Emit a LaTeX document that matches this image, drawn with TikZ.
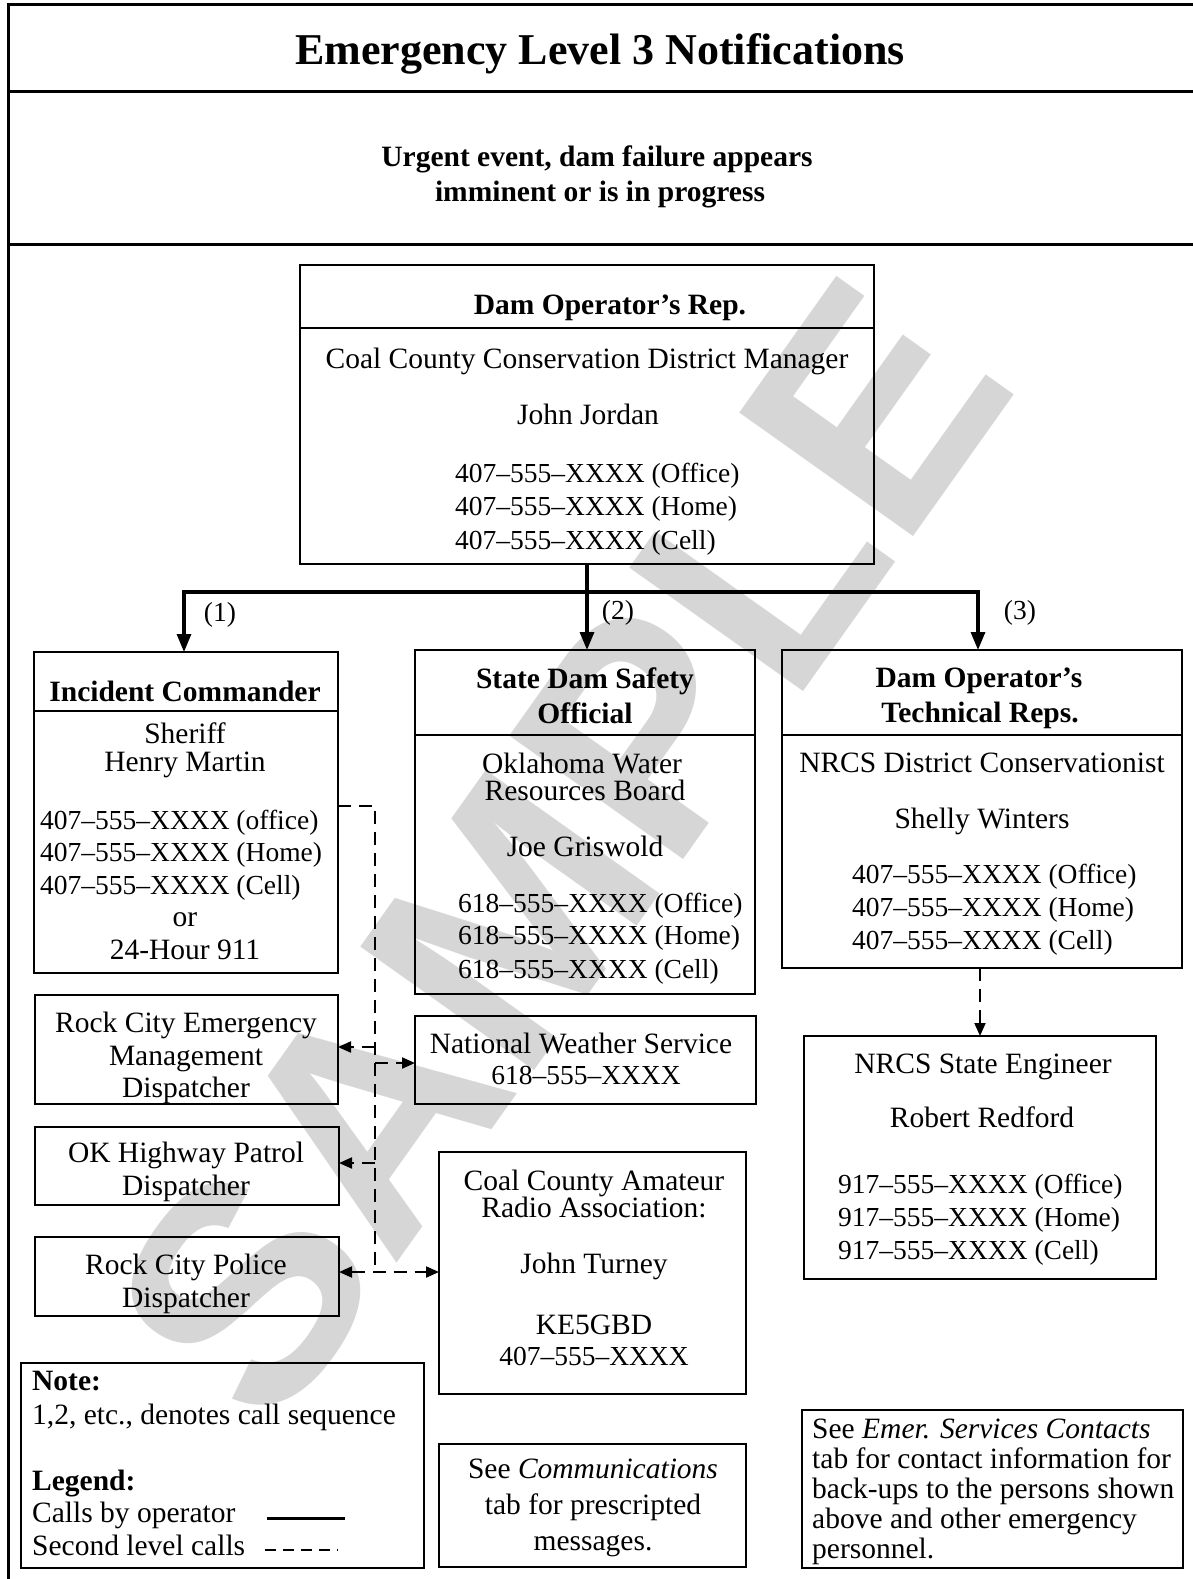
\documentclass[tikz,border=0pt]{standalone}
\usepackage{fontspec}
\setmainfont{Liberation Serif}
\setsansfont{Liberation Sans}
\usetikzlibrary{arrows.meta,calc}
\begin{document}
\begin{tikzpicture}[x=1pt,y=-1pt,
  box/.style={draw, line width=1.8pt, inner sep=0pt, outer sep=0pt, anchor=north west},
  txt/.style={inner sep=0pt, anchor=base, font=\fontsize{29.5}{33}\selectfont},
  txtl/.style={txt, anchor=base west},
  ph/.style={txt, font=\fontsize{27.5}{33}\selectfont},
  phl/.style={ph, anchor=base west},
  hd/.style={txt, font=\fontsize{29.5}{33}\selectfont\bfseries},
  hdl/.style={hd, anchor=base west},
  frameline/.style={line width=3pt},
  callline/.style={line width=3.2pt},
  callarrow/.style={line width=3.2pt, -{Triangle[length=18pt,width=14pt]}},
  dline/.style={line width=2pt, dash pattern=on 13pt off 8pt},
  darrow/.style={dline, -{Triangle[length=13pt,width=11pt]}},
  dbarrow/.style={dline, {Triangle[length=13pt,width=11pt]}-{Triangle[length=13pt,width=11pt]}}]
\useasboundingbox (0,0) rectangle (1193,1579);

% watermark
\node[rotate=54.6, text=black!16, inner sep=0pt] (wm) at (560,850)
  {\fontsize{310}{310}\selectfont\sffamily\bfseries SAMPLE};

% frame
\draw[frameline] (8,1579) -- (8,5) -- (1193,5);
\draw[frameline] (8,91) -- (1193,91);
\draw[frameline] (8,244) -- (1193,244);

\node[hd, font=\fontsize{44}{50}\selectfont\bfseries] (title) at (600,65) {Emergency Level 3 Notifications};
\node[hd] (sub1) at (597,166) {Urgent event, dam failure appears};
\node[hd] (sub2) at (600,201) {imminent or is in progress};

% boxes
\node[box, minimum width=574pt, minimum height=299pt] (main) at (300,265) {};
\node[box, minimum width=304pt, minimum height=321pt] (ic) at (34,652) {};
\node[box, minimum width=340pt, minimum height=344pt] (sds) at (415,650) {};
\node[box, minimum width=400pt, minimum height=318pt] (tr) at (782,650) {};
\node[box, minimum width=352pt, minimum height=243pt] (nrcs) at (804,1036) {};
\node[box, minimum width=303pt, minimum height=109pt] (rcem) at (35,995) {};
\node[box, minimum width=341pt, minimum height=88pt] (nws) at (415,1016) {};
\node[box, minimum width=304pt, minimum height=78pt] (okhp) at (35,1127) {};
\node[box, minimum width=307pt, minimum height=242pt] (cca) at (439,1152) {};
\node[box, minimum width=304pt, minimum height=79pt] (rcp) at (35,1237) {};
\node[box, minimum width=403pt, minimum height=205pt] (note) at (21,1363) {};
\node[box, minimum width=307pt, minimum height=123pt] (comm) at (439,1444) {};
\node[box, minimum width=381pt, minimum height=158pt] (emer) at (802,1410) {};

% header dividers
\draw[line width=1.8pt] (main.west |- 0,328) -- (main.east |- 0,328);
\draw[line width=1.8pt] (ic.west |- 0,711) -- (ic.east |- 0,711);
\draw[line width=1.8pt] (sds.west |- 0,735) -- (sds.east |- 0,735);
\draw[line width=1.8pt] (tr.west |- 0,735) -- (tr.east |- 0,735);

% main box text
\node[hd] (m1) at (610,314) {Dam Operator’s Rep.};
\node[txt] (m2) at (587,368) {Coal County Conservation District Manager};
\node[txt] (m3) at (588,424) {John Jordan};
\node[phl] (m4) at (455,482) {407–555–XXXX (Office)};
\node[phl] (m5) at (455,515) {407–555–XXXX (Home)};
\node[phl] (m6) at (455,549) {407–555–XXXX (Cell)};

% call arrows
\coordinate (a1) at (184,592);
\coordinate (a3) at (978,592);
\draw[callline] (main.south) -- (main.south |- a1);
\draw[callarrow] (main.south |- a1) -| (a1 |- ic.north);
\draw[callarrow] (main.south |- a1) -| (a3 |- tr.north);
\draw[callarrow] (main.south |- a1) -- (main.south |- sds.north);
\node[ph] (l1) at (220,621) {(1)};
\node[ph] (l2) at (618,619) {(2)};
\node[ph] (l3) at (1020,619) {(3)};

% Incident Commander
\node[hd] (ic1) at (185,701) {Incident Commander};
\node[txt] (ic2) at (185,743) {Sheriff};
\node[txt] (ic3) at (185,771) {Henry Martin};
\node[phl] (ic4) at (40,829) {407–555–XXXX (office)};
\node[phl] (ic5) at (40,861) {407–555–XXXX (Home)};
\node[phl] (ic6) at (40,894) {407–555–XXXX (Cell)};
\node[txt] (ic7) at (185,926) {or};
\node[txt] (ic8) at (185,959) {24-Hour 911};

% State Dam Safety Official
\node[hd] (s1) at (585,688) {State Dam Safety};
\node[hd] (s2) at (585,723) {Official};
\node[txt] (s3) at (582,773) {Oklahoma Water};
\node[txt] (s4) at (585,800) {Resources Board};
\node[txt] (s5) at (585,856) {Joe Griswold};
\node[phl] (s6) at (458,912) {618–555–XXXX (Office)};
\node[phl] (s7) at (458,944) {618–555–XXXX (Home)};
\node[phl] (s8) at (458,978) {618–555–XXXX (Cell)};

% Technical Reps
\node[hd] (t1) at (979,687) {Dam Operator’s};
\node[hd] (t2) at (980,722) {Technical Reps.};
\node[txt] (t3) at (982,772) {NRCS District Conservationist};
\node[txt] (t4) at (982,828) {Shelly Winters};
\node[phl] (t5) at (852,883) {407–555–XXXX (Office)};
\node[phl] (t6) at (852,916) {407–555–XXXX (Home)};
\node[phl] (t7) at (852,949) {407–555–XXXX (Cell)};

% NRCS State Engineer
\node[txt] (n1) at (983,1073) {NRCS State Engineer};
\node[txt] (n2) at (982,1127) {Robert Redford};
\node[phl] (n3) at (838,1193) {917–555–XXXX (Office)};
\node[phl] (n4) at (838,1226) {917–555–XXXX (Home)};
\node[phl] (n5) at (838,1259) {917–555–XXXX (Cell)};

% second level boxes
\node[txt] (r1) at (186,1032) {Rock City Emergency};
\node[txt] (r2) at (186,1065) {Management};
\node[txt] (r3) at (186,1097) {Dispatcher};
\node[txt] (w1) at (581,1053) {National Weather Service};
\node[ph] (w2) at (586,1084) {618–555–XXXX};
\node[txt] (o1) at (186,1162) {OK Highway Patrol};
\node[txt] (o2) at (186,1195) {Dispatcher};
\node[txt] (c1) at (594,1190) {Coal County Amateur};
\node[txt] (c2) at (594,1217) {Radio Association:};
\node[txt] (c3) at (594,1273) {John Turney};
\node[txt] (c4) at (594,1334) {KE5GBD};
\node[ph] (c5) at (594,1365) {407–555–XXXX};
\node[txt] (p1) at (186,1274) {Rock City Police};
\node[txt] (p2) at (186,1307) {Dispatcher};

% second level connectors
\coordinate (d0) at (375,806);
\coordinate (d1) at (375,1272);
\coordinate (d2) at (375,1047);
\coordinate (d3) at (375,1063);
\coordinate (d4) at (375,1163);
\draw[dline] (ic.east |- d0) -- (d0) -- (d1);
\draw[darrow] (d2) -- (rcem.east |- d2);
\draw[darrow] (d3) -- (nws.west |- d3);
\draw[darrow] (d4) -- (okhp.east |- d4);
\draw[dbarrow] (rcp.east |- d1) -- (cca.west |- d1);
\draw[darrow] (tr.south -| nrcs.north) -- (nrcs.north);

% note / legend
\node[hdl] (nt1) at (32,1390) {Note:};
\node[txtl] (nt2) at (32,1424) {1,2, etc., denotes call sequence};
\node[hdl] (nt3) at (32,1490) {Legend:};
\node[txtl] (nt4) at (32,1522) {Calls by operator};
\node[txtl] (nt5) at (32,1555) {Second level calls};
\coordinate (lg1) at (267,1518);
\coordinate (lg2) at (345,1518);
\coordinate (lg3) at (265,1550);
\coordinate (lg4) at (338,1550);
\draw[line width=3pt] (lg1) -- (lg2);
\draw[line width=2pt, dash pattern=on 11pt off 7pt] (lg3) -- (lg4);

% communications
\node[txt] (cm1) at (593,1478) {See \textit{Communications}};
\node[txt] (cm2) at (593,1514) {tab for prescripted};
\node[txt] (cm3) at (593,1550) {messages.};

% emergency services
\node[txtl] (e1) at (812,1438) {See \textit{Emer. Services Contacts}};
\node[txtl] (e2) at (812,1468) {tab for contact information for};
\node[txtl] (e3) at (812,1498) {back-ups to the persons shown};
\node[txtl] (e4) at (812,1528) {above and other emergency};
\node[txtl] (e5) at (812,1558) {personnel.};
\end{tikzpicture}
\end{document}
